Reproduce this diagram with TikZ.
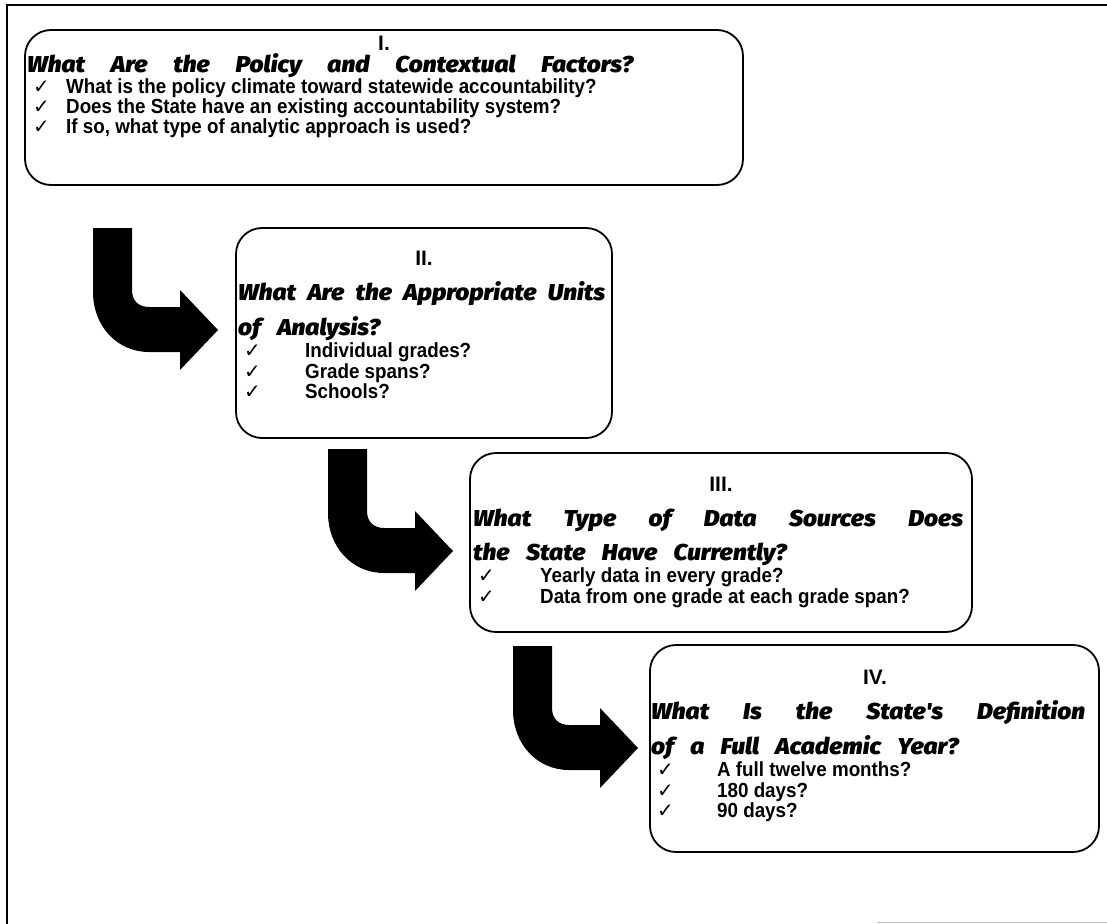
\documentclass[tikz,border=0pt]{standalone}
\usepackage{fontspec}
\setmainfont{Liberation Sans}
\newfontfamily\heavyfont{Fira Sans Black Italic}[WordSpace=3.2, FakeStretch=1.07]
\newfontfamily\itemfont{Liberation Sans}[FakeStretch=0.92]
\newfontfamily\checkfont{DejaVu Sans}

\newcommand{\qtext}[1]{{\heavyfont\fontsize{23}{25}\selectfont #1}}
\newcommand{\qline}[2]{\makebox[#1][s]{\qtext{#2}}}
\newcommand{\chk}[1]{\makebox[#1][l]{\checkfont\fontsize{20}{20}\selectfont ✓}}

\begin{document}
\begin{tikzpicture}[x=1bp,y=-1bp,
    qbox/.style={draw, line width=1.8bp, rounded corners=26bp, inner sep=0pt},
    qnum/.style={anchor=base, inner sep=0pt, font=\bfseries\fontsize{21}{21}\selectfont},
    qhead/.style={anchor=base west, inner sep=0pt},
    qitem/.style={anchor=base west, inner sep=0pt, font=\itemfont\bfseries\fontsize{20.5}{22}\selectfont},
    bentarrow/.pic={
        \fill (0,0) -- (39,0) -- (39,62) .. controls (39,73) and (46,79) .. (56,79)
            -- (87,79) -- (87,62) -- (125,102) -- (87,142) -- (87,124) -- (56,124)
            .. controls (24,124) and (0,98) .. (0,64) -- cycle;
    }]
    \useasboundingbox (0,0) rectangle (1107,924);

    % frame
    \draw[line width=2.5bp] (7,924) -- (7,5) -- (1107,5);
    \draw[black!25, line width=1bp] (877,922.5) -- (1107,922.5);

    % I
    \node[qbox, minimum width=718bp, minimum height=155bp] (b1) at (384,107.5) {};
    \node[qnum] (n1) at (384,50) {I.};
    \node[qhead] (h1) at (27,72) {\qline{606bp}{What Are the Policy and Contextual Factors?}};
    \node[qitem] (i1a) at (33,93) {\chk{33bp}What is the policy climate toward statewide accountability?};
    \node[qitem] (i1b) at (33,113) {\chk{33bp}Does the State have an existing accountability system?};
    \node[qitem] (i1c) at (33,133) {\chk{33bp}If so, what type of analytic approach is used?};

    \pic at (93,228) {bentarrow};

    % II
    \node[qbox, minimum width=376bp, minimum height=210bp] (b2) at (424,333) {};
    \node[qnum] (n2) at (424,265) {II.};
    \node[qhead] (h2a) at (238,300) {\qline{367bp}{What Are the Appropriate Units}};
    \node[qhead] (h2b) at (238,335) {\qtext{of Analysis?}};
    \node[qitem] (i2a) at (244,357) {\chk{61bp}Individual grades?};
    \node[qitem] (i2b) at (244,378) {\chk{61bp}Grade spans?};
    \node[qitem] (i2c) at (244,398) {\chk{61bp}Schools?};

    \pic at (328,449) {bentarrow};

    % III
    \node[qbox, minimum width=502bp, minimum height=179bp] (b3) at (721,542.5) {};
    \node[qnum] (n3) at (721,491) {III.};
    \node[qhead] (h3a) at (473,526) {\qline{490bp}{What Type of Data Sources Does}};
    \node[qhead] (h3b) at (473,560) {\qtext{the State Have Currently?}};
    \node[qitem] (i3a) at (478,582) {\chk{62bp}Yearly data in every grade?};
    \node[qitem] (i3b) at (478,603) {\chk{62bp}Data from one grade at each grade span?};

    \pic at (513,646) {bentarrow};

    % IV
    \node[qbox, minimum width=449bp, minimum height=207bp] (b4) at (874.5,748.5) {};
    \node[qnum] (n4) at (875,684) {IV.};
    \node[qhead] (h4a) at (651,719) {\qline{434bp}{What Is the State's Definition}};
    \node[qhead] (h4b) at (651,754) {\qtext{of a Full Academic Year?}};
    \node[qitem] (i4a) at (657,776) {\chk{60bp}A full twelve months?};
    \node[qitem] (i4b) at (657,797) {\chk{60bp}180 days?};
    \node[qitem] (i4c) at (657,817) {\chk{60bp}90 days?};
\end{tikzpicture}
\end{document}
